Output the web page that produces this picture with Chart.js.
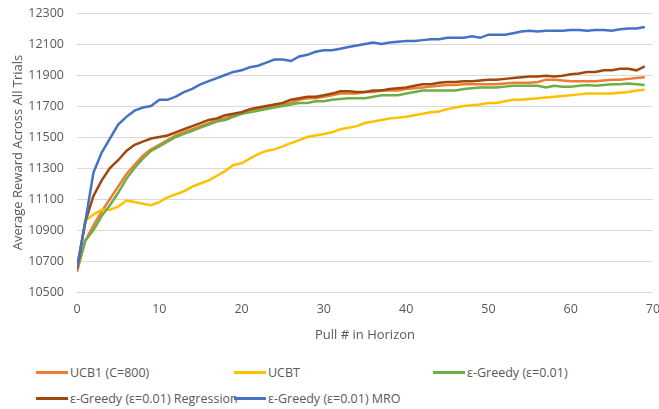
<!DOCTYPE html>
<html>
<head>
<meta charset="utf-8">
<script src="https://cdn.jsdelivr.net/npm/chart.js@4"></script>
<style>
  html, body { margin: 0; padding: 0; background: #fff; }
  #wrap { position: relative; width: 659px; height: 409px; font-family: "Open Sans", "Liberation Sans", sans-serif; }
  #c { position: absolute; left: 0; top: 0; }
  .lg { position: absolute; display: flex; align-items: center; font-size: 12.5px; color: #595959; white-space: nowrap; }
  .lg span.sw { display: inline-block; width: 32px; height: 3px; margin-right: 2px; }
</style>
</head>
<body>
<div id="wrap">
  <canvas id="c" width="659" height="350"></canvas>
  <div id="legend"></div>
</div>
<script>
const pulls = Array.from({length: 70}, (_, i) => i);
const seriesNames = ["UCB1 (C=800)", "UCBT", "ε-Greedy (ε=0.01)", "ε-Greedy (ε=0.01) Regression", "ε-Greedy (ε=0.01) MRO"];
const seriesColors = ["#ED7D31", "#FFC000", "#70AD47", "#9E480E", "#4472C4"];
const yTicks = [10500, 10700, 10900, 11100, 11300, 11500, 11700, 11900, 12100, 12300];
const xTicks = [0, 10, 20, 30, 40, 50, 60, 70];

const ucb1 = [10630,10830,10930,11020,11100,11180,11260,11320,11380,11420,
  11450,11480,11510,11530,11550,11570,11590,11610,11620,11640,
  11650,11670,11680,11690,11700,11710,11720,11740,11750,11750,
  11760,11770,11780,11780,11780,11790,11790,11800,11800,11800,
  11810,11815,11820,11825,11830,11835,11835,11840,11840,11840,
  11840,11840,11845,11850,11850,11850,11855,11870,11870,11865,
  11860,11860,11860,11860,11865,11870,11870,11875,11880,11885];
const ucbt = [10650,10960,11000,11030,11030,11050,11090,11080,11070,11060,
  11080,11110,11130,11150,11180,11200,11220,11250,11280,11320,
  11330,11360,11390,11410,11420,11440,11460,11480,11500,11510,
  11520,11530,11550,11560,11570,11590,11600,11610,11620,11625,
  11630,11640,11650,11660,11665,11680,11690,11700,11705,11710,
  11720,11720,11730,11740,11740,11745,11750,11755,11760,11765,
  11770,11775,11780,11780,11780,11780,11785,11790,11800,11805];
const greedy = [10650,10830,10900,10990,11060,11140,11230,11300,11360,11410,
  11440,11470,11500,11520,11540,11560,11580,11600,11610,11630,
  11650,11660,11670,11680,11690,11700,11710,11720,11720,11730,
  11730,11740,11745,11750,11750,11750,11760,11770,11770,11770,
  11780,11790,11800,11800,11800,11800,11800,11810,11815,11820,
  11820,11820,11825,11830,11830,11830,11830,11820,11830,11825,
  11825,11830,11835,11830,11835,11840,11840,11845,11840,11835];
const regression = [10650,10950,11120,11220,11300,11350,11410,11450,11470,11490,
  11500,11510,11530,11550,11570,11590,11610,11620,11640,11650,
  11660,11680,11690,11700,11710,11720,11740,11750,11760,11760,
  11770,11780,11795,11795,11790,11790,11800,11800,11810,11815,
  11820,11830,11840,11840,11850,11855,11855,11860,11860,11865,
  11870,11870,11875,11880,11885,11890,11890,11895,11890,11895,
  11905,11910,11920,11920,11930,11930,11940,11940,11930,11955];
const mro = [10650,10950,11270,11400,11490,11580,11630,11670,11690,11700,
  11740,11740,11760,11790,11810,11840,11860,11880,11900,11920,
  11930,11950,11960,11980,12000,12000,11990,12020,12030,12050,
  12060,12060,12070,12080,12090,12100,12110,12100,12110,12115,
  12120,12120,12125,12130,12130,12140,12140,12140,12150,12140,
  12160,12160,12160,12170,12180,12185,12180,12185,12185,12185,
  12190,12190,12185,12190,12190,12185,12195,12200,12200,12210];

const seriesValues = [ucb1, ucbt, greedy, regression, mro];
const drawOrder = [4, 3, 2, 1, 0];

const FONT = "'Open Sans', 'Liberation Sans', sans-serif";
const GREY = "#595959";

const datasets = seriesValues.map((vals, k) => ({
  label: seriesNames[k],
  data: vals.map((v, i) => ({x: pulls[i], y: v})),
  borderColor: seriesColors[k],
  backgroundColor: seriesColors[k],
  borderWidth: 2.5,
  pointRadius: 0,
  tension: 0,
  fill: false,
  order: drawOrder[k]
}));

new Chart(document.getElementById('c'), {
  type: 'line',
  data: { datasets },
  options: {
    responsive: false,
    animation: false,
    layout: { padding: { left: 0, right: 6, top: 13, bottom: 0 } },
    plugins: { legend: { display: false }, tooltip: { enabled: false } },
    scales: {
      x: {
        type: 'linear', min: 0, max: 70,
        afterBuildTicks: s => { s.ticks = xTicks.map(v => ({value: v})); },
        afterFit: s => { s.height = 58; s.paddingLeft = 0; s.paddingRight = 0; },
        grid: { display: false, drawTicks: false },
        border: { display: false },
        ticks: { color: GREY, font: { family: FONT, size: 12.5 }, padding: 10 },
        title: { display: true, text: 'Pull # in Horizon', color: GREY, font: { family: FONT, size: 13 }, padding: { top: 6, bottom: 7 } }
      },
      y: {
        min: 10500, max: 12300,
        afterBuildTicks: s => { s.ticks = yTicks.map(v => ({value: v})); },
        afterFit: s => { s.width = 77; s.paddingTop = 0; s.paddingBottom = 0; },
        grid: { color: "#D9D9D9", lineWidth: 1, drawTicks: false },
        border: { display: false },
        ticks: { color: GREY, font: { family: FONT, size: 12.5 }, padding: 13, callback: v => String(v) },
        title: { display: true, text: 'Average Reward Across All Trials', color: GREY, font: { family: FONT, size: 13 }, padding: { top: 10, bottom: 2 } }
      }
    }
  }
});

// Legend (grid-aligned like the original)
const legendPos = [[36, 372], [234, 372], [433, 372], [36, 398], [234, 398]];
const lg = document.getElementById('legend');
seriesNames.forEach((n, k) => {
  const d = document.createElement('div');
  d.className = 'lg';
  d.style.left = legendPos[k][0] + 'px';
  d.style.top = (legendPos[k][1] - 9) + 'px';
  d.style.height = '18px';
  d.innerHTML = '<span class="sw" style="background:' + seriesColors[k] + '"></span>';
  d.appendChild(document.createTextNode(n));
  lg.appendChild(d);
});
</script>
</body>
</html>
